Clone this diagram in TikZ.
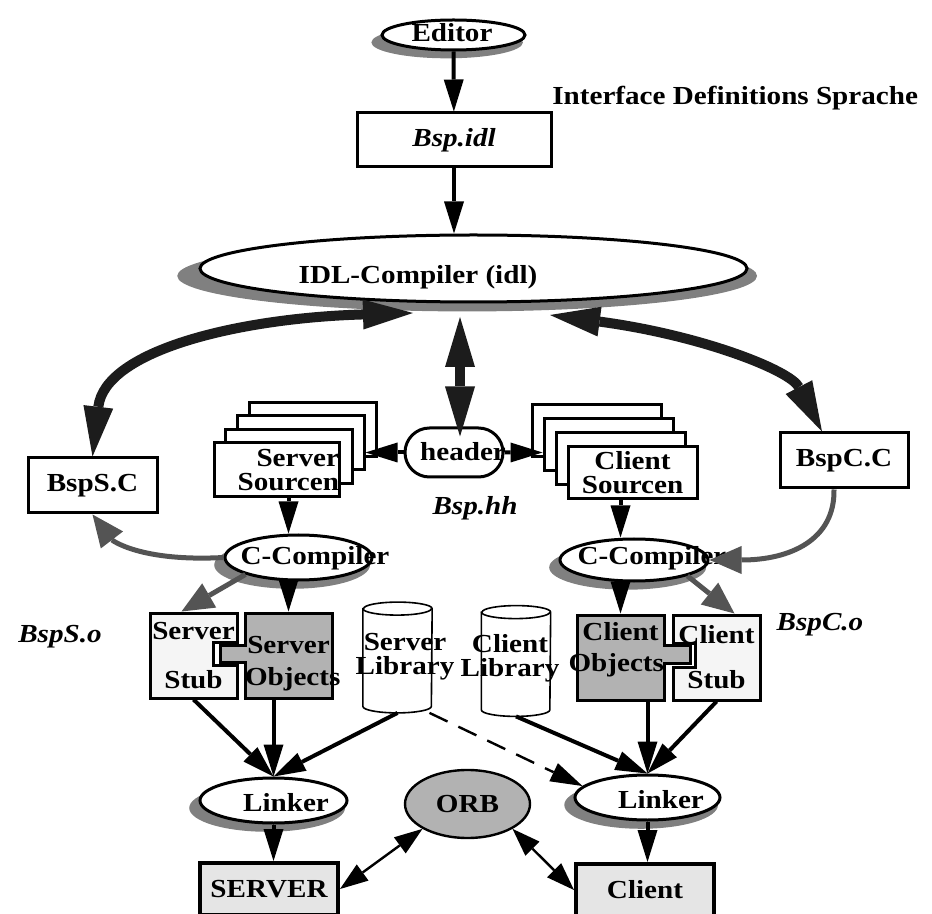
\documentclass[tikz,border=0pt]{standalone}
\usepackage{fontspec}
\setmainfont{Liberation Serif}[FakeStretch=1.12]
\usepackage{tikz}
\usetikzlibrary{shapes,arrows.meta,positioning,calc,shadows}

\definecolor{shadowgray}{gray}{0.5}
\definecolor{objgray}{gray}{0.70}
\definecolor{stubgray}{gray}{0.96}
\definecolor{progfill}{gray}{0.90}
\definecolor{curvegray}{gray}{0.33}
\definecolor{inkblack}{gray}{0.11}

\tikzset{
  every node/.style={font=\bfseries\fontsize{13}{12}\selectfont},
  it/.style={font=\bfseries\itshape\fontsize{13}{12}\selectfont},
  txt/.style={inner sep=0pt, align=center},
  box/.style={draw, line width=1.5pt, fill=white, inner sep=0pt},
  tool/.style={ellipse, draw, line width=1.5pt, fill=white, inner sep=0pt,
    general shadow={fill=shadowgray, shadow scale=1.06, shadow xshift=-3pt, shadow yshift=-3.5pt}},
  libarea/.style={inner sep=0pt, minimum width=34.25pt, minimum height=55pt},
  libline/.style={line width=0.8pt, fill=white},
  arr/.style={-{Triangle[length=16pt,width=10pt,line width=0pt]}, line width=2pt},
  bigarr/.style={{Triangle[length=25pt,width=15pt,line width=0pt]}-{Triangle[length=25pt,width=15pt,line width=0pt]}, line width=5pt, inkblack},
  greyarr/.style={-{Triangle[length=16pt,width=14pt,line width=0pt]}, line width=2.5pt, curvegray},
  orbarr/.style={{Triangle[length=14pt,width=10pt,line width=0pt]}-{Triangle[length=14pt,width=10pt,line width=0pt]}, line width=1.2pt},
}

\begin{document}
\begin{tikzpicture}[x=0.5pt, y=-0.5pt]
    \useasboundingbox (0,0) rectangle (932,914);

    % Editor and IDL file
    \node[tool, minimum width=71.5pt, minimum height=15pt] (editor) at (453.5,35) {};
    \node[txt] (editor-t) at (452,33) {Editor};
    \node[box, it, minimum width=97pt, minimum height=27pt] (bspidl) at (454,140) {Bsp.idl};
    \node[txt, anchor=west] (sprache) at (552,98) {Interface Definitions Sprache};

    % IDL compiler
    \node[tool, minimum width=273.5pt, minimum height=33.5pt] (idl) at (473.5,268.5) {};
    \node[txt] (idl-t) at (418,277) {IDL-Compiler (idl)};
    \coordinate (idl-l) at (413,313);
    \coordinate (idl-m) at (460,317);
    \coordinate (idl-r) at (550,315);

    % generated files
    \node[box, minimum width=64.5pt, minimum height=27.5pt] (bspsc) at (92.5,485.5) {BspS.C};
    \node[box, minimum width=64pt, minimum height=27.5pt] (bspcc) at (844,460.5) {BspC.C};

    \foreach \i in {3,2,1} {
        \node[box, minimum width=63.5pt, minimum height=27pt] (ssrc\i) at ({276.5+12*\i},{470-13.5*\i}) {};
        \node[box, minimum width=64.5pt, minimum height=26pt] (csrc\i) at ({632.5-12*\i},{473-14*\i}) {};
    }
    \node[box, text width=62.5pt, minimum height=27pt, align=right] (ssrc) at (276.5,470) {Server\\Sourcen};
    \node[box, text width=64.5pt, minimum height=26pt, align=center] (csrc) at (632.5,473) {Client\\Sourcen};

    \node[rounded rectangle, draw, line width=1.5pt, fill=white, inner sep=0pt,
          minimum width=49pt, minimum height=24.5pt] (header) at (454,452.5) {};
    \node[txt] (header-t) at (463,452) {header};
    \node[txt, it] (bsphh) at (475,508) {Bsp.hh};

    % C compilers
    \node[tool, minimum width=73.5pt, minimum height=22.5pt] (scc) at (298.5,557.5) {};
    \node[txt] (scc-t) at (315,558) {C-Compiler};
    \node[tool, minimum width=74pt, minimum height=21pt] (ccc) at (634,560) {};
    \node[txt] (ccc-t) at (652,558) {C-Compiler};

    % object files
    \node[box, fill=stubgray, text width=43.5pt, minimum height=42.5pt, align=center] (sstub) at (193.5,655.5) {Server\\[12.5pt]Stub};
    \node[box, fill=objgray, text width=43.5pt, minimum height=42.5pt, align=center] (sobj) at (288.5,655.5) {\rule{0pt}{17pt}Server\\[4pt]Objects};
    \node[box, fill=objgray, text width=43.5pt, minimum height=42.5pt, align=center] (cobj) at (620.5,657.5) {Client\\[3.5pt]\makebox[43.5pt][r]{Objects}\rule[-11pt]{0pt}{0pt}};
    \node[box, fill=stubgray, text width=43.5pt, minimum height=42.5pt, align=center] (cstub) at (716.5,657.5) {Client\\[10.5pt]Stub};

    % puzzle joints
    \fill[white] (212,642) rectangle (239,665);
    \draw[line width=1.5pt] (238.5,642) -- (213,642) -- (213,665) -- (238.5,665);
    \fill[objgray] (220,645) rectangle (246.5,662);
    \draw[line width=1.5pt] (246.5,645) -- (220,645) -- (220,662) -- (246.5,662);
    \fill[white] (671,643) rectangle (695,667);
    \draw[line width=1.5pt] (671.5,643) -- (695,643) -- (695,667) -- (671.5,667);
    \fill[objgray] (662.5,645) rectangle (690,663);
    \draw[line width=1.5pt] (662.5,645) -- (690,645) -- (690,663) -- (662.5,663);

    % libraries
    \node[libarea] (slib) at (397.5,657.5) {};
    \node[libarea] (clib) at (516,661) {};
    \foreach \n in {slib,clib} {
        \draw[libline] ([yshift=-3.25pt]\n.north west) -- ([yshift=3.25pt]\n.south west)
            arc[start angle=180, end angle=360, x radius=17.125pt, y radius=3.25pt]
            -- ([yshift=-3.25pt]\n.north east)
            arc[start angle=0, end angle=180, x radius=17.125pt, y radius=3.25pt] -- cycle;
        \draw[line width=0.8pt] ([yshift=-3.25pt]\n.north west)
            arc[start angle=180, end angle=360, x radius=17.125pt, y radius=3.25pt];
    }
    \node[txt] (slib-t) at (405,657) {Server\\Library};
    \node[txt] (clib-t) at (510,658) {Client\\Library};

    \node[txt, it] (bspso) at (60,637) {BspS.o};
    \node[txt, it] (bspco) at (820,625) {BspC.o};

    % linkers, ORB and programs
    \node[tool, minimum width=73.5pt, minimum height=22.5pt] (slink) at (273.5,800.5) {};
    \node[txt] (slink-t) at (286,803) {Linker};
    \node[tool, minimum width=72.5pt, minimum height=22.5pt] (clink) at (647.5,797.5) {};
    \node[txt] (clink-t) at (661,800) {Linker};
    \node[ellipse, draw, line width=1.2pt, fill=objgray, inner sep=0pt,
          minimum width=62.5pt, minimum height=34pt] (orb) at (467.5,804) {ORB};
    \node[box, fill=progfill, line width=2pt, minimum width=69pt, minimum height=26pt] (server) at (269,889) {SERVER};
    \node[box, fill=progfill, line width=2pt, minimum width=69pt, minimum height=26pt] (client) at (645,890) {Client};

    % connectors
    \draw[arr] (editor) -- (bspidl);
    \draw[arr] (bspidl) -- (bspidl |- idl.north);

    \draw[bigarr] (idl-l) .. controls (240,318) and (105,350) .. (bspsc.north);
    \draw[bigarr] (idl-r) .. controls (700,335) and (790,370) .. ([xshift=-11pt]bspcc.north);
    \draw[bigarr] (idl-m) -- ([yshift=-5pt]idl-m |- header.north);

    \draw[arr] (header) -- (header -| ssrc2.east);
    \draw[arr] (header) -- (header -| csrc2.west);

    \draw[arr] (ssrc.south -| sobj) -- (scc.north -| sobj);
    \draw[arr] (csrc.south -| cobj) -- (ccc.north -| cobj);
    \draw[arr] (scc.south -| sobj) -- (sobj);
    \draw[arr] (ccc.south -| cobj) -- (cobj);

    \draw[greyarr] (scc.west) .. controls (140,562) and (112,540) .. (bspsc.south);
    \draw[greyarr] (scc.south west) -- ([xshift=-6pt]sstub.north);
    \draw[greyarr] ([xshift=-5pt]bspcc.south) .. controls (835,540) and (790,560) .. (ccc.east);
    \draw[greyarr] (ccc.south east) -- ([xshift=9pt]cstub.north);

    \draw[arr] (sstub.south) -- (slink.north);
    \draw[arr] (sobj.south -| slink.north) -- (slink.north);
    \draw[arr] (slib.south) -- (slink.north);
    \draw[arr] (clib.south) -- (clink.north);
    \draw[arr] (cobj.south -| clink.north) -- (clink.north);
    \draw[arr] (cstub.south) -- (clink.north);
    \draw[arr, line width=1.2pt, dash pattern=on 10pt off 6pt] ([xshift=16pt]slib.south) -- (clink.170);

    \draw[arr] (slink.south) -- (slink.south |- server.north);
    \draw[arr] (clink.south) -- (clink.south |- client.north);
    \draw[orbarr] (server.east) -- (orb.south west);
    \draw[orbarr] (orb.south east) -- (client.west);
\end{tikzpicture}
\end{document}
